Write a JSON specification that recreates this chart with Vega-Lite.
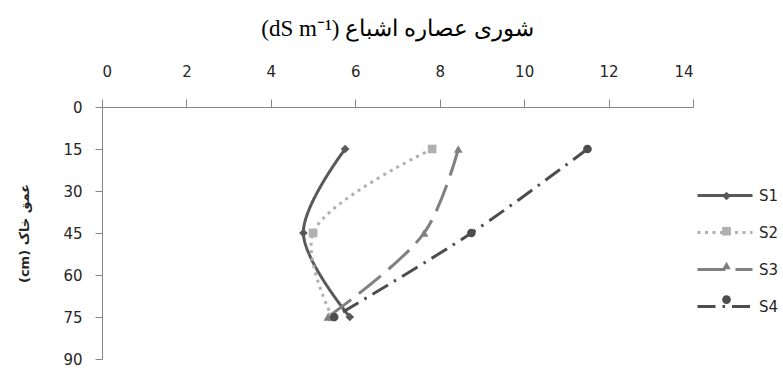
{
  "$schema": "https://vega.github.io/schema/vega-lite/v6.json",
  "width": 591,
  "height": 252,
  "autosize": "none",
  "padding": {"left": 102, "top": 107, "right": 90, "bottom": 10},
  "background": "white",
  "config": {"view": {"stroke": null}},
  "title": {
    "text": "⁦(dS m⁻¹)⁩  شوری عصاره اشباع",
    "font": "Liberation Serif",
    "fontSize": 23,
    "fontWeight": "normal",
    "color": "#000000",
    "anchor": "middle",
    "offset": 23
  },
  "data": {
    "values": [
      {"series": "S1", "depth": 15, "ec": 5.76},
      {"series": "S1", "depth": 45, "ec": 4.77},
      {"series": "S1", "depth": 75, "ec": 5.87},
      {"series": "S2", "depth": 15, "ec": 7.82},
      {"series": "S2", "depth": 45, "ec": 5.0},
      {"series": "S2", "depth": 75, "ec": 5.45},
      {"series": "S3", "depth": 15, "ec": 8.44},
      {"series": "S3", "depth": 45, "ec": 7.63},
      {"series": "S3", "depth": 75, "ec": 5.35},
      {"series": "S4", "depth": 15, "ec": 11.5},
      {"series": "S4", "depth": 45, "ec": 8.75},
      {"series": "S4", "depth": 75, "ec": 5.5}
    ]
  },
  "encoding": {
    "x": {
      "field": "ec", "type": "quantitative",
      "scale": {"domain": [0, 14], "nice": false, "zero": false},
      "axis": {
        "orient": "top", "values": [0, 2, 4, 6, 8, 10, 12, 14], "title": null,
        "grid": false, "domainColor": "#868686", "tickColor": "#868686", "tickSize": 8,
        "labelFont": "DejaVu Sans", "labelFontSize": 15, "labelColor": "#262626",
        "labelPadding": 20
      }
    },
    "y": {
      "field": "depth", "type": "quantitative",
      "scale": {"domain": [0, 90], "reverse": true, "nice": false, "zero": false},
      "axis": {
        "orient": "left", "values": [0, 15, 30, 45, 60, 75, 90],
        "title": "(cm) عمق خاک",
        "titleFont": "DejaVu Sans", "titleFontSize": 13, "titleFontWeight": "bold", "titleColor": "#262626",
        "titlePadding": 31,
        "grid": false, "domainColor": "#868686", "tickColor": "#868686", "tickSize": 7,
        "labelFont": "DejaVu Sans", "labelFontSize": 15, "labelColor": "#262626",
        "labelPadding": 13
      }
    }
  },
  "layer": [
    {
      "mark": {"type": "line", "interpolate": "catmull-rom", "strokeWidth": 3, "strokeCap": "butt"},
      "encoding": {
        "order": {"field": "depth", "type": "quantitative"},
        "stroke": {
          "field": "series", "type": "nominal",
          "scale": {"domain": ["S1", "S2", "S3", "S4"], "range": ["#595959", "#b0b0b0", "#808080", "#4d4d4d"]},
          "legend": {
            "title": null,
            "orient": "none",
            "legendX": 594,
            "legendY": 59.5,
            "padding": 0,
            "symbolType": "stroke",
            "symbolSize": 3025,
            "symbolStrokeWidth": 3,
            "rowPadding": -2.3,
            "labelFont": "DejaVu Sans", "labelFontSize": 15, "labelColor": "#262626",
            "labelOffset": 5
          }
        },
        "strokeDash": {
          "field": "series", "type": "nominal",
          "scale": {"domain": ["S1", "S2", "S3", "S4"], "range": [[1, 0], [3, 4.5], [28, 10], [18, 7, 2.5, 7]]}
        }
      }
    },
    {
      "mark": {"type": "point", "filled": true, "opacity": 1, "size": 75},
      "encoding": {
        "fill": {
          "field": "series", "type": "nominal",
          "scale": {"range": ["#595959", "#b0b0b0", "#808080", "#4d4d4d"]},
          "legend": {
            "title": null,
            "orient": "none",
            "legendX": 617.5,
            "legendY": 82,
            "padding": 0,
            "symbolSize": 75,
            "rowPadding": 19.2,
            "labelFont": "DejaVu Sans", "labelFontSize": 14, "labelColor": "transparent",
            "labelOffset": 5
          }
        },
        "shape": {
          "field": "series", "type": "nominal",
          "scale": {"range": ["diamond", "square", "triangle-up", "circle"]}
        }
      }
    }
  ]
}
